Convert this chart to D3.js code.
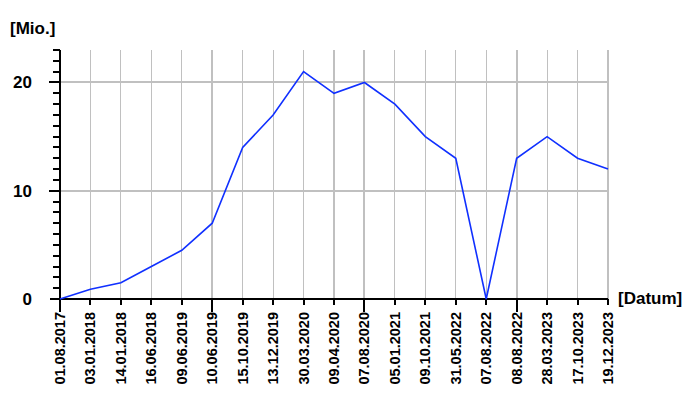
<!DOCTYPE html>
<html><head><meta charset="utf-8">
<script src="https://cdn.jsdelivr.net/npm/d3@7"></script>
<style>body{margin:0;background:#fff}svg{display:block}text{font-family:"Liberation Sans",Arial,sans-serif;fill:#000;font-weight:bold}</style>
</head><body><svg id="c" width="700" height="400"></svg>
<script>
const categories = ["01.08.2017","03.01.2018","14.01.2018","16.06.2018","09.06.2019","10.06.2019","15.10.2019","13.12.2019","30.03.2020","09.04.2020","07.08.2020","05.01.2021","09.10.2021","31.05.2022","07.08.2022","08.08.2022","28.03.2023","17.10.2023","19.12.2023"];
const values = [0,0.9,1.5,3,4.5,7,14,17,21,19,20,18,15,13,0,13,15,13,12];
const yTicks = [0,10,20];
const yLabel = "[Mio.]";
const xLabel = "[Datum]";

const svg = d3.select("#c");
const L=60, R=608, T=50, B=299;
const x = d3.scalePoint().domain(categories).range([L,R]);
const y = d3.scaleLinear().domain([0,23]).range([B,T]);
const grid="#c0c0c0";
const g = svg.append("g");
categories.forEach((c,i)=>{
  if(i===0) return;
  g.append("line").attr("x1",x(c)).attr("x2",x(c)).attr("y1",T).attr("y2",B)
   .attr("stroke",grid).attr("stroke-width", i%5===0?2:1.2).attr("shape-rendering","crispEdges");
});
yTicks.filter(v=>v>0).forEach(v=>{
  g.append("line").attr("x1",L).attr("x2",R).attr("y1",y(v)).attr("y2",y(v))
   .attr("stroke",grid).attr("stroke-width",2).attr("shape-rendering","crispEdges");
});
d3.range(1,24).forEach(v=>{
  const major = v%10===0;
  g.append("line").attr("x1",major?49:53).attr("x2",L).attr("y1",Math.round(y(v))).attr("y2",Math.round(y(v)))
   .attr("stroke","#000").attr("stroke-width",major?2:1.5).attr("shape-rendering","crispEdges");
});
g.append("line").attr("x1",L).attr("x2",L).attr("y1",T).attr("y2",B).attr("stroke","#000").attr("stroke-width",2).attr("shape-rendering","crispEdges");
g.append("line").attr("x1",50).attr("x2",R).attr("y1",B).attr("y2",B).attr("stroke","#000").attr("stroke-width",2).attr("shape-rendering","crispEdges");
categories.forEach((c,i)=>{
  const major = i%5===0;
  g.append("line").attr("x1",x(c)).attr("x2",x(c)).attr("y1",B).attr("y2",major?312:305)
   .attr("stroke","#000").attr("stroke-width",2).attr("shape-rendering","crispEdges");
  g.append("text").attr("transform",`translate(${x(c)+5},${312}) rotate(-90)`)
   .attr("text-anchor","end").attr("font-size",14.5).text(c);
});
yTicks.forEach(v=>{
  g.append("text").attr("x",32).attr("y",y(v)+6).attr("text-anchor","end").attr("font-size",17).text(v);
});
svg.append("text").attr("x",10).attr("y",34).attr("font-size",17).text(yLabel);
svg.append("text").attr("x",618).attr("y",304).attr("font-size",17).text(xLabel);
svg.append("path").datum(values).attr("fill","none").attr("stroke","#1030ff").attr("stroke-width",1.6)
  .attr("d", d3.line().x((d,i)=>x(categories[i])).y(d=>y(d)));
</script></body></html>
